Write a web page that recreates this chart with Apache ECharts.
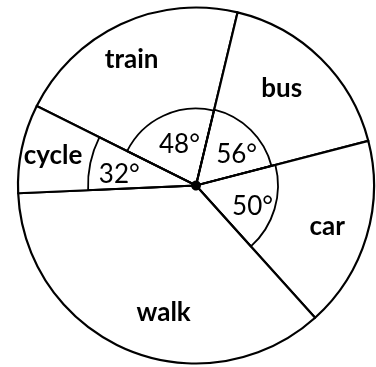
<!DOCTYPE html>
<html>
<head>
<meta charset="utf-8">
<script src="https://cdn.jsdelivr.net/npm/echarts@6/dist/echarts.min.js"></script>
<style>
  html, body { margin: 0; padding: 0; background: #fff; }
  #chart { width: 376px; height: 367px; }
</style>
</head>
<body>
<div id="chart"></div>
<script>
// slices as they are drawn in the picture (degrees of the circle)
var modes = ["train", "bus", "car", "walk", "cycle"];
var drawnAngles = [77, 62, 62.5, 129.5, 29];
// angle printed inside each slice ("" = none)
var angleTexts = ["48°", "56°", "50°", "", "32°"];
// slices that get a small marking arc
var arcModes = ["train", "bus", "car", "cycle"];

var center = [196, 185.5];
var startAngle = 153.5;
var arcRadius = { train: 77, bus: 78, car: 82, cycle: 108 }; // px
var nameOffset = { train: [-6, -1], bus: [-11, 2], car: [-1, 1], walk: [21, 0], cycle: [-8, -1] };
var angleOffset = { train: [8, 12], bus: [0, 10], car: [1, 4], cycle: [-20, 1] };

var font = "Lato, 'Open Sans', sans-serif";
var none = "rgba(0,0,0,0)";

function base(extra) {
  return Object.assign({
    type: "pie",
    center: center,
    startAngle: startAngle,
    clockwise: true,
    silent: true,
    avoidLabelOverlap: false,
    label: { show: false },
    labelLine: { show: false },
    emphasis: { disabled: true }
  }, extra);
}

var series = [];

// main circle
series.push(base({
  z: 1,
  radius: [0, 178],
  itemStyle: { color: "#fff", borderColor: "#000", borderWidth: 2.2 },
  data: modes.map(function (m, i) { return { name: m, value: drawnAngles[i] }; })
}));

// angle marking arcs
arcModes.forEach(function (a) {
  series.push(base({
    z: 2,
    radius: [0, arcRadius[a]],
    data: modes.map(function (m, i) {
      return {
        name: m,
        value: drawnAngles[i],
        itemStyle: m === a
          ? { color: none, borderColor: "#000", borderWidth: 1.8 }
          : { color: none, borderWidth: 0 }
      };
    })
  }));
});

// mode names
series.push(base({
  z: 3,
  radius: [0, 270],
  itemStyle: { color: none, borderWidth: 0 },
  data: modes.map(function (m, i) {
    return {
      name: m,
      value: drawnAngles[i],
      label: {
        show: true, position: "inside", formatter: "{b}",
        color: "#000", fontFamily: font, fontWeight: "bold", fontSize: 26,
        offset: nameOffset[m]
      }
    };
  })
}));

// angle texts
series.push(base({
  z: 3,
  radius: [0, 110],
  itemStyle: { color: none, borderWidth: 0 },
  data: modes.map(function (m, i) {
    return {
      name: m,
      value: drawnAngles[i],
      label: {
        show: angleTexts[i] !== "", position: "inside", formatter: angleTexts[i],
        color: "#000", fontFamily: font, fontWeight: "normal", fontSize: 26,
        offset: angleOffset[m] || [0, 0]
      }
    };
  })
}));

// centre dot
series.push(base({
  z: 4,
  radius: [0, 5],
  itemStyle: { color: "#000" },
  data: [{ name: "centre", value: 1 }]
}));

var chart = echarts.init(document.getElementById("chart"), null, { renderer: "canvas" });
chart.setOption({
  animation: false,
  backgroundColor: "#fff",
  series: series
});
</script>
</body>
</html>
